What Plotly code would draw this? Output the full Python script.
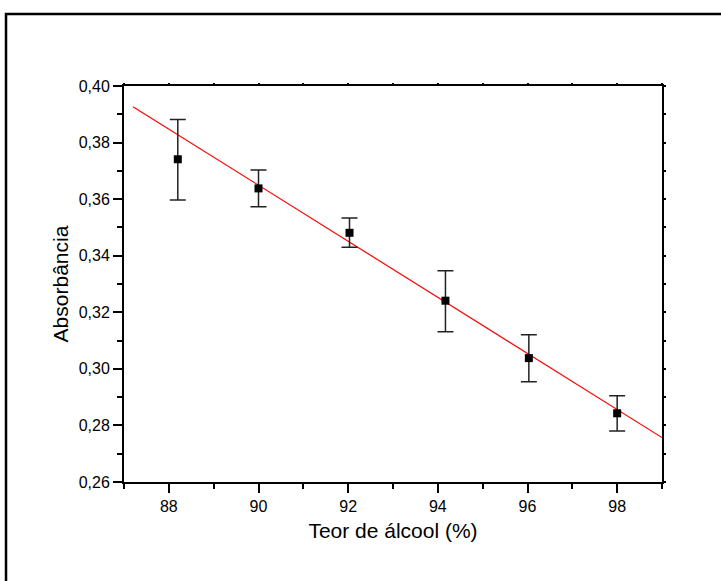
import plotly.graph_objects as go

# dados
teor = [88.2, 90.0, 92.03, 94.17, 96.03, 98.0]
absorb = [0.3741, 0.3638, 0.3481, 0.3241, 0.3038, 0.2843]
erro_sup = [0.0141, 0.0065, 0.0052, 0.0106, 0.0083, 0.0062]
erro_inf = [0.0144, 0.0065, 0.0051, 0.0110, 0.0084, 0.0063]

# reta ajustada (extremos)
ajuste_x = [87.2, 99.0]
ajuste_y = [0.3927, 0.2757]

x_range = [87, 99]
y_range = [0.26, 0.40]
x_ticks = [88, 90, 92, 94, 96, 98]
y_ticks = [0.26, 0.28, 0.30, 0.32, 0.34, 0.36, 0.38, 0.40]

FONT = "Liberation Sans, Arial, sans-serif"

fig = go.Figure()
fig.add_trace(go.Scatter(
    x=ajuste_x, y=ajuste_y, mode="lines",
    line=dict(color="#ff0000", width=1.2), showlegend=False,
))
fig.add_trace(go.Scatter(
    x=teor, y=absorb, mode="markers",
    marker=dict(symbol="square", size=8, color="black"),
    error_y=dict(type="data", symmetric=False, array=erro_sup, arrayminus=erro_inf,
                 color="#222222", thickness=1.5, width=8),
    showlegend=False,
))
# eixos espelhados (topo/direita) com marcas curtas
fig.add_trace(go.Scatter(x=x_range, y=y_range, xaxis="x2", yaxis="y2",
                         mode="markers", marker=dict(opacity=0), hoverinfo="skip",
                         showlegend=False))

eixo = dict(showgrid=False, zeroline=False, showline=True, linecolor="black",
            linewidth=2, ticks="outside", tickcolor="black", tickwidth=1.5,
            ticklen=9, tickfont=dict(family=FONT, size=16, color="black"))

fig.update_layout(
    width=721, height=581,
    margin=dict(l=124, r=59, t=86, b=99),
    paper_bgcolor="white", plot_bgcolor="white",
    separators=",.",
    font=dict(family=FONT, color="black"),
    xaxis=dict(**eixo, range=x_range, tickvals=x_ticks,
               minor=dict(dtick=1, tick0=87, ticklen=5, tickwidth=1.5,
                          tickcolor="black", ticks="outside"),
               title=dict(text="Teor de álcool (%)", standoff=9,
                          font=dict(family=FONT, size=21, color="black"))),
    yaxis=dict(**eixo, range=y_range, tickvals=y_ticks, tickformat=".2f",
               minor=dict(dtick=0.01, tick0=0.26, ticklen=5, tickwidth=1.5,
                          tickcolor="black", ticks="outside"),
               title=dict(text="Absorbância", standoff=4,
                          font=dict(family=FONT, size=21, color="black"))),
    xaxis2=dict(overlaying="x", side="top", range=x_range, dtick=1,
                showgrid=False, zeroline=False, showline=True, linecolor="black",
                linewidth=2, ticks="outside", ticklen=1.5, tickwidth=1.5,
                tickcolor="black", showticklabels=False),
    yaxis2=dict(overlaying="y", side="right", range=y_range, dtick=0.01,
                showgrid=False, zeroline=False, showline=True, linecolor="black",
                linewidth=2, ticks="outside", ticklen=2, tickwidth=1.5,
                tickcolor="black", showticklabels=False),
    shapes=[dict(type="rect", xref="paper", yref="paper",
                 x0=-0.2193, x1=2.0, y0=-1.0, y1=1.1818,
                 line=dict(color="black", width=2.5), layer="below")],
)

fig.write_html("out.html", config={"displayModeBar": False},
               post_script="document.body.style.margin='0';document.body.style.overflow='hidden';")
